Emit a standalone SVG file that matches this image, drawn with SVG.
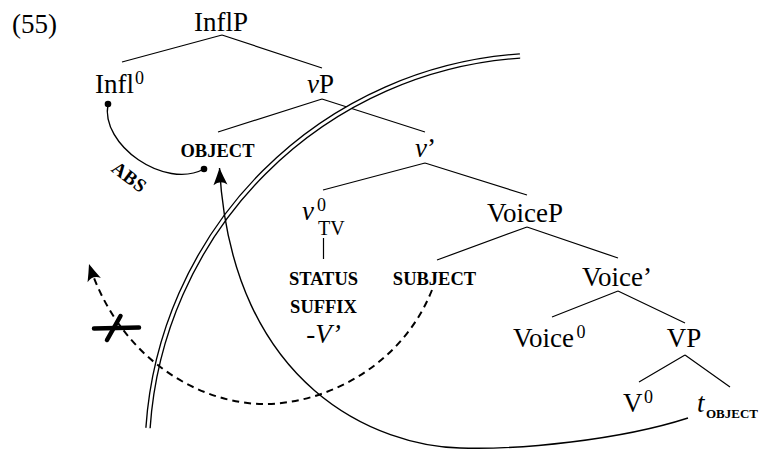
<svg xmlns="http://www.w3.org/2000/svg" width="761" height="450" viewBox="0 0 761 450">
<style>
text{font-family:"Liberation Serif","Times New Roman",serif;fill:#000}
.n{font-size:27px}
.sup{font-size:18px}
.sc{font-size:18.5px;font-weight:bold}
.it{font-style:italic}
.tl{stroke:#000;stroke-width:1.2;fill:none}
.mv{stroke:#000;stroke-width:1.4;fill:none}
.dash{stroke:#000;stroke-width:2;fill:none;stroke-dasharray:7 5}
</style>
<defs>
<marker id="ah" markerUnits="userSpaceOnUse" markerWidth="22" markerHeight="20" viewBox="-20 -10 22 20" refX="0" refY="0" orient="auto">
<path d="M0,0 Q-8,-3 -17,-7 Q-11.5,0 -17,7 Q-8,3 0,0 Z" fill="#000"/>
</marker>
</defs>
<g id="connectors">
<path class="tl" d="M222,35 L122,62 M222,35 L322,68 M322,99 L218,132 M322,99 L425,132 M425,163 L323,190 M425,163 L527,195 M323.5,238 L323.5,259 M527,227 L437,260 M527,227 L618,258 M618,291 L552,317 M618,291 L685,323 M685,355 L639,382 M685,355 L730,387"/>
<path d="M148,428 A400,400 0 0,1 520,56" fill="none" stroke="#000" stroke-width="5.6"/>
<path d="M148,428 A400,400 0 0,1 520,56" fill="none" stroke="#fff" stroke-width="2.9"/>
<path class="mv" d="M688,418 C620,440 520,450 460,448 C380,446 232,390 219.5,168" marker-end="url(#ah)"/>
<path class="dash" d="M432,290 C400,370 320,405 262,404 C200,403 120,360 89,264" marker-end="url(#ah)"/>
<path class="mv" d="M108,104 C100,145 165,190 204,169"/>
<circle cx="108" cy="104" r="3.3" fill="#000"/>
<circle cx="204" cy="169" r="3.3" fill="#000"/>
<path d="M94,328.5 L139,327.5" stroke="#000" stroke-width="4.5" stroke-linecap="round" fill="none"/>
<path d="M120.5,316 L107,340" stroke="#000" stroke-width="4.5" stroke-linecap="round" fill="none"/>
<text transform="translate(125.5,182) rotate(37)" text-anchor="middle" font-size="19" font-weight="bold" letter-spacing="0.5">ABS</text>
</g>
<g id="ex"><text class="n" x="12" y="33" font-size="28">(55)</text></g>
<g id="InflP"><text class="n" x="221" y="31" text-anchor="middle">InflP</text></g>
<g id="Infl0"><text class="n" x="95" y="93">Infl</text><text class="sup" x="135" y="84">0</text></g>
<g id="vP"><text class="n" x="307" y="93"><tspan class="it">v</tspan>P</text></g>
<g id="OBJECT"><text class="sc" x="217.5" y="157" text-anchor="middle">OBJECT</text></g>
<g id="vbar"><text class="n" x="415" y="157"><tspan class="it">v</tspan>’</text></g>
<g id="v0TV"><text class="n it" x="302" y="220">v</text><text class="sup" x="317" y="211">0</text><text x="318" y="235" font-size="20">TV</text></g>
<g id="status"><text class="sc" x="323.5" y="285" text-anchor="middle">STATUS</text><text class="sc" x="323.5" y="313" text-anchor="middle">SUFFIX</text><text class="n" x="323.5" y="343" text-anchor="middle">-<tspan class="it">V’</tspan></text></g>
<g id="VoiceP"><text class="n" x="525" y="222" text-anchor="middle">VoiceP</text></g>
<g id="SUBJECT"><text class="sc" x="434.5" y="285" text-anchor="middle">SUBJECT</text></g>
<g id="Voicebar"><text class="n" x="617" y="286" text-anchor="middle">Voice’</text></g>
<g id="Voice0"><text class="n" x="513" y="347">Voice</text><text class="sup" x="576.5" y="338">0</text></g>
<g id="VP"><text class="n" x="684" y="347" text-anchor="middle">VP</text></g>
<g id="V0"><text class="n" x="623" y="412">V</text><text class="sup" x="644" y="403">0</text></g>
<g id="tOBJECT"><text class="n it" x="697" y="412">t</text><text x="706" y="418" font-size="13" font-weight="bold">OBJECT</text></g>
</svg>
